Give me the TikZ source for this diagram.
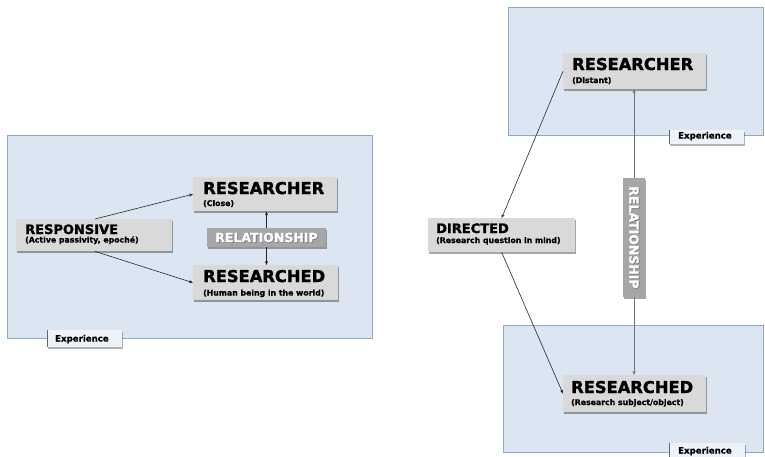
\documentclass[tikz,border=0pt]{standalone}
\usepackage{fontspec}
\setmainfont{DejaVu Sans}
\newfontfamily\heavyfont{DejaVu Sans}[BoldFeatures={FakeBold=1.6}]
\newfontfamily\midfont{DejaVu Sans}[BoldFeatures={FakeBold=0.8}]
\usetikzlibrary{shadows,calc,arrows.meta}
\definecolor{panelfill}{HTML}{DCE6F2}
\definecolor{panelline}{HTML}{8EA9C8}
\definecolor{boxfill}{HTML}{D9D9D9}
\definecolor{relfill}{HTML}{A6A6A6}
\definecolor{tabfill}{HTML}{EEF3FA}
\begin{document}
\begin{tikzpicture}[x=1pt,y=-1pt,
  panel/.style={draw=panelline, fill=panelfill, line width=0.6pt},
  gbox/.style={fill=boxfill, draw=none, inner sep=0pt, anchor=north west,
    drop shadow={shadow xshift=1.2pt, shadow yshift=-1.5pt, fill=black, opacity=0.35}},
  relbox/.style={fill=relfill, draw=none, inner sep=0pt,
    drop shadow={shadow xshift=1.2pt, shadow yshift=-1.5pt, fill=black, opacity=0.35}},
  tabbox/.style={fill=tabfill, draw=none, inner sep=0pt, anchor=north west,
    drop shadow={shadow xshift=1.2pt, shadow yshift=-1.5pt, fill=black, opacity=0.3}},
  hdr/.style={font=\heavyfont\fontsize{16.3}{18}\selectfont\bfseries, inner sep=0pt, anchor=base west},
  hdrs/.style={font=\heavyfont\fontsize{13}{15}\selectfont\bfseries, inner sep=0pt, anchor=base west},
  sub/.style={font=\midfont\fontsize{7.8}{9}\selectfont\bfseries, inner sep=0pt, anchor=base west},
  tabtxt/.style={font=\midfont\fontsize{8.6}{10}\selectfont\bfseries, inner sep=0pt, anchor=base west},
  reltxt/.style={font=\heavyfont\fontsize{12.5}{14}\selectfont\bfseries, inner sep=0pt, text=white},
  relsh/.style={font=\heavyfont\fontsize{12.5}{14}\selectfont\bfseries, inner sep=0pt, text=black!55},
  conn/.style={draw=black!85, line width=0.6pt, -{Stealth[length=4pt,width=3.2pt]}},
  gconn/.style={draw=black!55, line width=0.9pt, -{Stealth[length=4pt,width=3.2pt]}}
]
\useasboundingbox (0,0) rectangle (765,456);

% ---------- left panel ----------
\draw[panel] (7,135) rectangle (372,338);
\node[tabbox, minimum width=75, minimum height=17] (tabL) at (47,330) {};
\draw[black!60, line width=0.6pt] (tabL.north west) -- (tabL.south west);
\node[tabtxt] (tabLt) at ($(tabL.north west)+(8,11.5)$) {Experience};

\node[gbox, minimum width=156, minimum height=32] (resp) at (16,219) {};
\node[hdrs] (respH) at ($(resp.north west)+(9,15)$) {RESPONSIVE};
\node[sub] (respS) at ($(resp.north west)+(9,23.5)$) {(Active passivity, epoché)};

\node[gbox, minimum width=144, minimum height=34] (rc) at (193,177) {};
\node[hdr] (rcH) at ($(rc.north west)+(10,17)$) {RESEARCHER};
\node[sub] (rcS) at ($(rc.north west)+(10,29)$) {(Close)};

\node[gbox, minimum width=145, minimum height=35] (rd) at (193,265) {};
\node[hdr] (rdH) at ($(rd.north west)+(10,17)$) {RESEARCHED};
\node[sub] (rdS) at ($(rd.north west)+(10,30.5)$) {(Human being in the world)};

\node[relbox, minimum width=119, minimum height=19] (rel) at (266.5,237.5) {};
\node[relsh] (relS) at ($(rel.center)+(0.7,0.7)$) {RELATIONSHIP};
\node[reltxt] (relT) at (rel.center) {RELATIONSHIP};

\draw[conn] ($(resp.north west)+(79,0)$) -- (rc.west);
\draw[conn] ($(resp.south west)+(79,0)$) -- (rd.west);
\draw[conn] (rel.north) -- (rel.north |- rc.south);
\draw[conn] (rel.south) -- (rel.south |- rd.north);

% ---------- right panels ----------
\draw[panel] (508,7) rectangle (763,135);
\node[tabbox, minimum width=75, minimum height=14] (tabT) at (669,130) {};
\draw[black!60, line width=0.6pt] (tabT.north west) -- (tabT.south west);
\node[tabtxt] (tabTt) at ($(tabT.north west)+(9,8.5)$) {Experience};

\draw[panel] (503,325) rectangle (763,452);
\node[tabbox, minimum width=76, minimum height=14] (tabB) at (669,443) {};
\draw[black!60, line width=0.6pt] (tabB.north west) -- (tabB.south west);
\node[tabtxt] (tabBt) at ($(tabB.north west)+(9,10.5)$) {Experience};

\node[gbox, minimum width=143, minimum height=36] (rcd) at (563,53) {};
\node[hdr] (rcdH) at ($(rcd.north west)+(9,17)$) {RESEARCHER};
\node[sub] (rcdS) at ($(rcd.north west)+(9,30)$) {(Distant)};

\node[gbox, minimum width=147, minimum height=34] (dir) at (428,218) {};
\node[hdrs] (dirH) at ($(dir.north west)+(8,15)$) {DIRECTED};
\node[sub] (dirS) at ($(dir.north west)+(8,25)$) {(Research question in mind)};

\node[gbox, minimum width=143, minimum height=37] (rdd) at (563,375) {};
\node[hdr] (rddH) at ($(rdd.north west)+(8,18)$) {RESEARCHED};
\node[sub] (rddS) at ($(rdd.north west)+(8,30)$) {(Research subject/object)};

\node[relbox, minimum width=22, minimum height=119] (vrel) at (634,237.5) {};
\node[relsh, rotate=-90] (vrelS) at ($(vrel.center)+(0.7,0.7)$) {RELATIONSHIP};
\node[reltxt, rotate=-90] (vrelT) at (vrel.center) {RELATIONSHIP};

\draw[conn] (rcd.west) -- (dir.north);
\draw[conn] (dir.south) -- (rdd.west);
\draw[gconn] (vrel.north) -- (vrel.north |- rcd.south);
\draw[gconn] (vrel.south) -- (vrel.south |- rdd.north);
\end{tikzpicture}
\end{document}
